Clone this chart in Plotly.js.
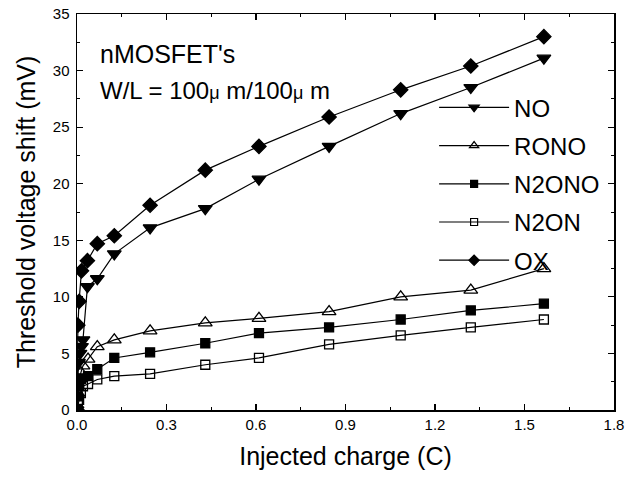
<!DOCTYPE html>
<html>
<head>
<meta charset="utf-8">
<script src="https://cdn.plot.ly/plotly-3.0.1.min.js"></script>
<style>html,body{margin:0;padding:0;background:#fff;}#chart{width:633px;height:480px;}</style>
</head>
<body>
<div id="chart"></div>
<script>
// Data
const seriesNames = ["NO", "RONO", "N2ONO", "N2ON", "OX"];

const noX    = [0, 0.005, 0.01, 0.015, 0.02, 0.035, 0.068, 0.125, 0.245, 0.43, 0.61, 0.845, 1.085, 1.32, 1.565];
const noY    = [0, 4.2, 5.0, 5.6, 6.2, 10.9, 11.6, 13.8, 16.1, 17.8, 20.4, 23.3, 26.2, 28.5, 31.1];

const ronoX  = [0, 0.003, 0.007, 0.013, 0.02, 0.037, 0.068, 0.125, 0.245, 0.43, 0.61, 0.845, 1.085, 1.32, 1.565];
const ronoY  = [0, 1.5, 2.6, 3.3, 3.9, 4.5, 5.6, 6.2, 7.0, 7.7, 8.1, 8.7, 10.0, 10.6, 12.5];

const n2onoX = [0, 0.003, 0.007, 0.013, 0.037, 0.068, 0.125, 0.245, 0.43, 0.61, 0.845, 1.085, 1.32, 1.565];
const n2onoY = [0, 1.2, 2.2, 2.8, 3.0, 3.6, 4.6, 5.1, 5.9, 6.8, 7.3, 8.0, 8.8, 9.4];

const n2onX  = [0, 0.003, 0.007, 0.013, 0.02, 0.037, 0.068, 0.125, 0.245, 0.43, 0.61, 0.845, 1.085, 1.32, 1.565];
const n2onY  = [0, 0.5, 0.9, 1.5, 2.1, 2.3, 2.7, 3.0, 3.2, 4.0, 4.6, 5.8, 6.6, 7.3, 8.0];

const oxX    = [0, 0.003, 0.007, 0.015, 0.035, 0.068, 0.125, 0.245, 0.43, 0.61, 0.845, 1.085, 1.32, 1.565];
const oxY    = [0, 7.5, 9.6, 12.3, 13.2, 14.7, 15.4, 18.1, 21.2, 23.3, 25.9, 28.3, 30.4, 33.0];

const xTickVals = [0, 0.3, 0.6, 0.9, 1.2, 1.5, 1.8];
const xTickText = ["0.0", "0.3", "0.6", "0.9", "1.2", "1.5", "1.8"];
const yTickVals = [0, 5, 10, 15, 20, 25, 30, 35];

const FONT = "Liberation Sans, Arial, Helvetica, sans-serif";

const symbols = ["triangle-down", "triangle-up-open", "square", "square-open", "diamond"];
const sizes   = [12, 12, 9, 9, 11];
const legendSizes = [9, 8, 7, 7, 8];
const xs = [noX, ronoX, n2onoX, n2onX, oxX];
const ys = [noY, ronoY, n2onoY, n2onY, oxY];

const data = [];
for (let i = 0; i < seriesNames.length; i++) {
  data.push({
    type: "scatter", mode: "lines+markers", name: seriesNames[i],
    x: xs[i], y: ys[i], showlegend: false,
    line: {color: "#000", width: 1.2},
    marker: {symbol: symbols[i], size: sizes[i], color: "#000",
             line: {color: "#000", width: 1.3}}
  });
}
// legend-only entries (smaller markers, as in the reference key)
for (let i = 0; i < seriesNames.length; i++) {
  data.push({
    type: "scatter", mode: "lines+markers", name: seriesNames[i],
    x: [null], y: [null], showlegend: true, legendgroup: "g" + i,
    line: {color: "#000", width: 1.2},
    marker: {symbol: symbols[i], size: legendSizes[i], color: "#000",
             line: {color: "#000", width: 1.2}}
  });
}

const layout = {
  width: 633, height: 480,
  margin: {l: 77, r: 19, t: 14, b: 70},
  paper_bgcolor: "#fff", plot_bgcolor: "#fff",
  font: {family: FONT, color: "#000"},
  showlegend: true,
  legend: {
    x: 0.665, y: 0.82, xanchor: "left", yanchor: "top",
    bgcolor: "rgba(0,0,0,0)", borderwidth: 0,
    font: {family: FONT, size: 24, color: "#000"},
    itemwidth: 70, traceorder: "grouped", tracegroupgap: 4
  },
  xaxis: {
    range: [0, 1.8], tickvals: xTickVals, ticktext: xTickText,
    ticks: "inside", ticklen: 6, tickwidth: 1.2, tickcolor: "#000",
    minor: {ticks: "inside", ticklen: 3, dtick: 0.15, tickcolor: "#000", tickwidth: 1},
    showline: true, linecolor: "#000", linewidth: 1.5, mirror: "allticks",
    showgrid: false, zeroline: false,
    tickfont: {size: 15, family: FONT},
    title: {text: "Injected charge (C)", font: {size: 25, family: FONT}, standoff: 16}
  },
  yaxis: {
    range: [0, 35], tickvals: yTickVals,
    ticks: "inside", ticklen: 6, tickwidth: 1.2, tickcolor: "#000",
    minor: {ticks: "inside", ticklen: 3, dtick: 2.5, tickcolor: "#000", tickwidth: 1},
    showline: true, linecolor: "#000", linewidth: 1.5, mirror: "allticks",
    showgrid: false, zeroline: false,
    tickfont: {size: 15, family: FONT}, ticklabelstandoff: 3,
    title: {text: "Threshold voltage shift (mV)", font: {size: 25, family: FONT}, standoff: 10}
  },
  annotations: [
    {xref: "paper", yref: "paper", x: 0.04, y: 0.90, xanchor: "left", yanchor: "middle",
     text: "nMOSFET's", showarrow: false, font: {size: 25, family: FONT}},
    {xref: "paper", yref: "paper", x: 0.04, y: 0.808, xanchor: "left", yanchor: "middle",
     text: "W/L = 100<span style='font-size:18px'>μ</span> m/100<span style='font-size:18px'>μ</span> m",
     showarrow: false, font: {size: 24, family: FONT}}
  ]
};

Plotly.newPlot("chart", data, layout, {displayModeBar: false, staticPlot: true});
</script>
</body>
</html>
